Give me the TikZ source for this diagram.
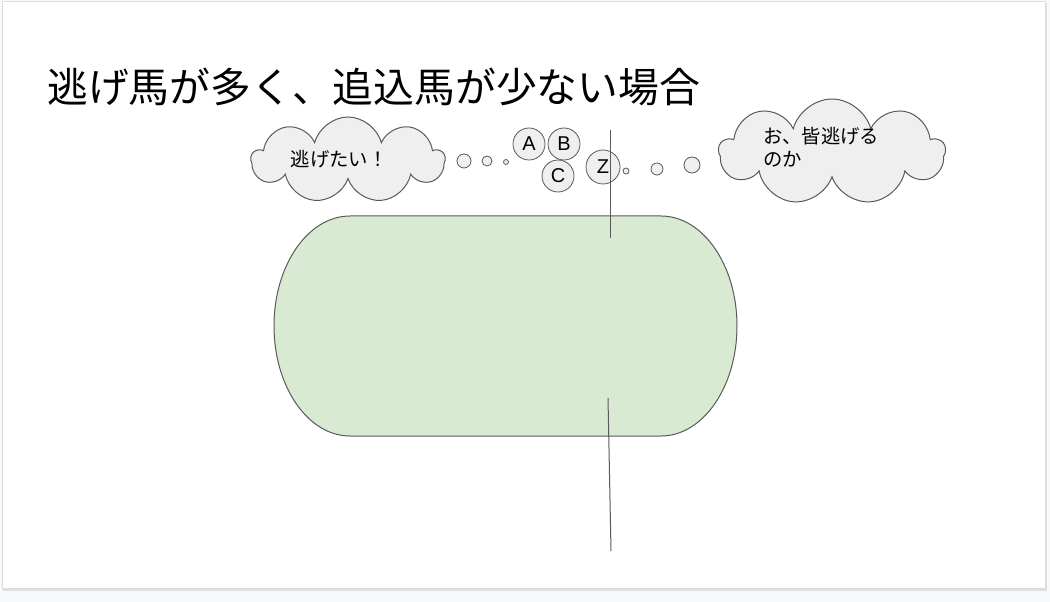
\documentclass[tikz,border=0pt]{standalone}
\usepackage{fontspec}
\setmainfont{Liberation Sans}
\newfontfamily\jp{Noto Sans CJK JP}
\usetikzlibrary{shapes.symbols}
\definecolor{pagebg}{HTML}{F8F9FA}
\definecolor{slideedge}{HTML}{DADCE0}
\definecolor{linegray}{HTML}{595959}
\definecolor{bubblefill}{HTML}{EFEFEF}
\definecolor{trackfill}{HTML}{D9EAD3}
\tikzset{
  px/.style={x=0.75pt,y=-0.75pt},
  thought/.style={cloud, cloud puffs=9, cloud ignores aspect, draw=linegray, fill=bubblefill, line width=0.75pt, inner sep=0pt},
  bubble/.style={circle, draw=linegray, fill=bubblefill, line width=0.6pt, inner sep=0pt},
  horse/.style={bubble, font=\fontsize{15}{15}\selectfont},
  mark line/.style={draw=linegray, line width=0.75pt},
}
\begin{document}
\begin{tikzpicture}[px]
\useasboundingbox (0,0) rectangle (1050,602);
\fill[pagebg] (0,0) rectangle (1050,602);
\fill[black!12] (3,3) rectangle (1047,591);
\draw[slideedge, fill=white, line width=0.75pt] (2,2) rectangle (1045,588);

% title
\node[anchor=west, font=\jp\fontsize{30.6}{30.6}\selectfont, inner sep=0pt] (title) at (47,87) {逃げ馬が多く、追込馬が少ない場合};

% race track
\path[fill=trackfill, draw=linegray, line width=0.75pt]
  (350,216) -- (661,216) arc[start angle=90, end angle=-90, x radius=76, y radius=-110]
  -- (350,436) arc[start angle=-90, end angle=-270, x radius=76, y radius=-110] -- cycle;

% clouds
\node[thought, minimum width=193*0.75pt, minimum height=86*0.75pt] (cl) at (348,160) {};
\node[font=\jp\fontsize{14.5}{14.5}\selectfont] (tl) at (339,159) {逃げたい！};
\node[thought, minimum width=226*0.75pt, minimum height=106*0.75pt] (cr) at (832,152) {};
\node[font=\jp\fontsize{14.5}{17}\selectfont, align=left, anchor=north west, inner sep=0pt] (tr) at (763,127) {お、皆逃げる\\のか};

% left thought bubbles
\node[bubble, minimum size=14*0.75pt] (b1) at (464,161) {};
\node[bubble, minimum size=10*0.75pt] (b2) at (487,161) {};
\node[bubble, minimum size=5*0.75pt] (b3) at (506,162) {};
% horses
\node[horse, minimum size=32*0.75pt] (hA) at (529,144) {A};
\node[horse, minimum size=32*0.75pt] (hB) at (564,144) {B};
\node[horse, minimum size=32*0.75pt] (hC) at (558,176) {C};
\node[horse, minimum size=34*0.75pt] (hZ) at (603,167) {Z};
% right thought bubbles
\node[bubble, minimum size=6*0.75pt] (b4) at (626,171) {};
\node[bubble, minimum size=12*0.75pt] (b5) at (657,169) {};
\node[bubble, minimum size=16*0.75pt] (b6) at (692,165) {};

% marker lines
\coordinate (l1a) at (610,130);
\coordinate (l1b) at (610,238);
\coordinate (l2a) at (608,398);
\coordinate (l2b) at (611,551);
\draw[mark line] (l1a) -- (l1b);
\draw[mark line] (l2a) -- (l2b);
\end{tikzpicture}
\end{document}
